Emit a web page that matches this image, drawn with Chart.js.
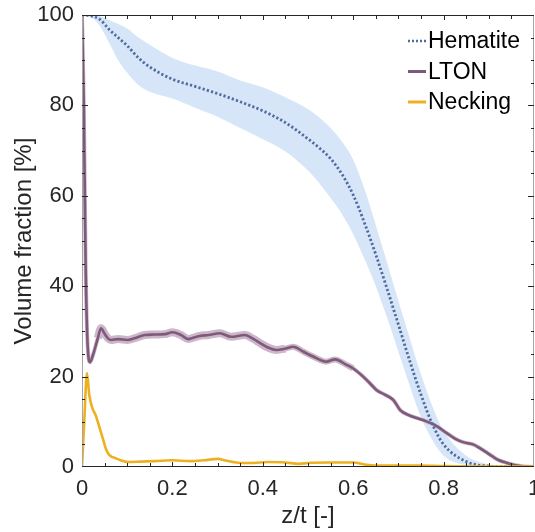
<!DOCTYPE html>
<html>
<head>
<meta charset="utf-8">
<script src="https://cdn.jsdelivr.net/npm/chart.js@4.4.1/dist/chart.umd.min.js"></script>
<style>
  html, body { margin:0; padding:0; background:#fff; }
  #wrap { width:535px; height:532px; }
</style>
</head>
<body>
<div id="wrap"><canvas id="c" width="535" height="532"></canvas></div>
<script>
// ─── Data ────────────────────────────────────────────────────────────────────
const seriesNames = ['Hematite', 'LTON', 'Necking'];

const hemX    = [0, 0.02, 0.04, 0.06, 0.08, 0.1, 0.125, 0.15, 0.2, 0.25, 0.3, 0.35, 0.4, 0.45, 0.5, 0.525, 0.55, 0.575, 0.6, 0.625, 0.65, 0.675, 0.7, 0.725, 0.75, 0.775, 0.8, 0.85, 0.9, 0.95, 1];
const hemMean = [100, 99.8, 99, 96.8, 95, 93.2, 90.5, 88.5, 85.8, 84.2, 82.6, 80.8, 78.8, 76.2, 72.6, 70.6, 68.2, 64.8, 60.2, 54, 47, 39.4, 31.5, 23.5, 16, 9.5, 5, 1.2, 0.2, 0.05, 0];
const hemHi   = [100, 100, 99.7, 98.9, 98, 97, 95, 93.4, 90.5, 88.8, 87.5, 85.5, 84, 81.8, 79.2, 77.3, 75, 72, 68, 61.5, 53.5, 45.2, 36.8, 28.5, 20.5, 13.5, 8, 2.5, 0.6, 0.1, 0];
const hemLo   = [100, 99.5, 97.5, 93.8, 90, 87.2, 84.5, 83, 81.5, 79.5, 77.5, 75, 72.5, 69.8, 65.6, 62.8, 59.5, 56, 51.5, 46, 40, 33, 25.5, 18, 11, 6, 2.5, 0.4, 0.05, 0, 0];

const ltonX = [0, 0.004, 0.008, 0.012, 0.018, 0.025, 0.035, 0.042, 0.05, 0.058, 0.064, 0.08, 0.1, 0.12, 0.139, 0.16, 0.184, 0.2, 0.219, 0.235, 0.243, 0.26, 0.28, 0.305, 0.33, 0.36, 0.38, 0.394, 0.41, 0.43, 0.45, 0.467, 0.49, 0.51, 0.54, 0.56, 0.585, 0.6, 0.622, 0.64, 0.652, 0.67, 0.689, 0.704, 0.72, 0.754, 0.78, 0.807, 0.825, 0.843, 0.865, 0.88, 0.903, 0.92, 0.94, 0.97, 1];
const ltonY = [100, 80, 45, 28, 23.2, 25, 28.5, 30.7, 29.5, 28.4, 28.1, 28.3, 28.1, 28.6, 29.2, 29.3, 29.4, 29.8, 29.2, 28.3, 28.5, 29, 29.2, 29.6, 28.8, 29.2, 28.3, 27.4, 26.5, 25.9, 26.2, 26.6, 25.5, 24.5, 23.3, 23.8, 22.6, 21.8, 20, 18.2, 17, 16, 14.8, 12.6, 11.6, 10.4, 9.3, 7.5, 6.3, 5.5, 5, 4.2, 2.7, 1.6, 0.9, 0.2, 0];

const neckX = [0, 0.005, 0.011, 0.016, 0.022, 0.03, 0.035, 0.041, 0.047, 0.053, 0.058, 0.065, 0.073, 0.085, 0.102, 0.13, 0.16, 0.2, 0.24, 0.27, 0.3, 0.32, 0.35, 0.38, 0.41, 0.45, 0.48, 0.5, 0.55, 0.6, 0.63, 0.66, 0.7, 0.75, 0.8, 0.9, 1];
const neckY = [0, 10, 20.8, 16, 13.3, 11.5, 10, 8, 6, 4, 3, 2.3, 2, 1.5, 1.1, 1.2, 1.3, 1.5, 1.3, 1.5, 1.8, 1.4, 0.9, 0.9, 1.1, 1, 0.7, 0.9, 1, 1, 0.5, 0.3, 0.3, 0.3, 0.2, 0.1, 0.1];

const xTicks = [0, 0.2, 0.4, 0.6, 0.8, 1];
const yTicks = [0, 20, 40, 60, 80, 100];

// ─── Style ───────────────────────────────────────────────────────────────────
const COL = {
  hem:    '#4f6b9f',
  hemBand:'#d6e6f8',
  lton:   '#7e5a7a',
  ltonBand:'#cdb6ca',
  neck:   '#edb120',
  ink:    '#262626',
  side:   '#a6a6a6',
};

Chart.defaults.font.family = "'Liberation Sans', Arial, sans-serif";
Chart.defaults.color = COL.ink;

const pts = (xs, ys) => xs.map((x, i) => ({ x, y: ys[i] }));

// ─── Plugins: box with inward ticks, legend inside the plot ─────────────────
const boxTicks = {
  id: 'boxTicks',
  afterDatasetsDraw(chart) {
    const { ctx, chartArea: a, scales: { x, y } } = chart;
    ctx.save();
    ctx.lineWidth = 1;
    ctx.strokeStyle = COL.side;
    ctx.beginPath();
    ctx.moveTo(a.left + 0.5, a.top); ctx.lineTo(a.left + 0.5, a.bottom);
    ctx.moveTo(a.right - 0.5, a.top); ctx.lineTo(a.right - 0.5, a.bottom);
    ctx.stroke();
    ctx.strokeStyle = COL.ink;
    ctx.beginPath();
    ctx.moveTo(a.left, a.top + 0.5); ctx.lineTo(a.right, a.top + 0.5);
    ctx.moveTo(a.left, a.bottom - 0.5); ctx.lineTo(a.right, a.bottom - 0.5);
    for (let i = 1; i < 20; i++) {
      const px = Math.round(x.getPixelForValue(i * 0.05)) + 0.5;
      const len = i % 4 === 0 ? 5 : 4;
      ctx.moveTo(px, a.bottom); ctx.lineTo(px, a.bottom - len);
      ctx.moveTo(px, a.top); ctx.lineTo(px, a.top + len);
    }
    for (let i = 1; i < 20; i++) {
      const py = Math.round(y.getPixelForValue(i * 5)) + 0.5;
      const len = i % 4 === 0 ? 6 : 3;
      ctx.moveTo(a.left, py); ctx.lineTo(a.left + len, py);
      ctx.moveTo(a.right, py); ctx.lineTo(a.right - len, py);
    }
    ctx.stroke();
    ctx.restore();
  }
};

const insideLegend = {
  id: 'insideLegend',
  afterDraw(chart) {
    const { ctx, chartArea: a } = chart;
    const styles = [
      { color: COL.hem,  dash: [2, 2], width: 2.5 },
      { color: COL.lton, dash: [],     width: 3 },
      { color: COL.neck, dash: [],     width: 3 },
    ];
    ctx.save();
    ctx.font = "23px 'Liberation Sans', Arial, sans-serif";
    ctx.textBaseline = 'middle';
    ctx.fillStyle = '#000';
    seriesNames.forEach((name, i) => {
      const yy = a.top + 26 + i * 30.5;
      const s = styles[i];
      ctx.strokeStyle = s.color;
      ctx.lineWidth = s.width;
      ctx.setLineDash(s.dash);
      ctx.beginPath();
      ctx.moveTo(a.right - 126, yy); ctx.lineTo(a.right - 108, yy);
      ctx.stroke();
      ctx.setLineDash([]);
      ctx.fillText(name, a.right - 106, yy + 1);
    });
    ctx.restore();
  }
};

// ─── Chart ───────────────────────────────────────────────────────────────────
new Chart(document.getElementById('c'), {
  type: 'line',
  data: {
    datasets: [
      { label: seriesNames[2], data: pts(neckX, neckY), borderColor: COL.neck, borderWidth: 2.6,
        fill: false, order: 0, cubicInterpolationMode: 'monotone' },
      { label: seriesNames[0], data: pts(hemX, hemMean), borderColor: COL.hem, borderWidth: 2.8,
        borderDash: [2.2, 2.2], borderCapStyle: 'butt', fill: false, order: 1, cubicInterpolationMode: 'monotone' },
      { label: seriesNames[1], data: pts(ltonX, ltonY), borderColor: COL.lton, borderWidth: 2.6,
        fill: false, order: 2, cubicInterpolationMode: 'monotone' },
      { label: 'LTON band', data: pts(ltonX, ltonY), borderColor: COL.ltonBand, borderWidth: 8,
        fill: false, order: 3, cubicInterpolationMode: 'monotone',
        segment: { borderWidth: c => c.p0.parsed.x < 0.03 ? 4 : c.p0.parsed.x < 0.45 ? 8 : c.p0.parsed.x < 0.6 ? 6 : 4 } },
      { label: 'Hematite upper', data: pts(hemX, hemHi), borderWidth: 0, borderColor: 'transparent',
        backgroundColor: COL.hemBand, fill: '+1', order: 4, cubicInterpolationMode: 'monotone' },
      { label: 'Hematite lower', data: pts(hemX, hemLo), borderWidth: 0, borderColor: 'transparent',
        fill: false, order: 5, cubicInterpolationMode: 'monotone' },
    ]
  },
  options: {
    responsive: false, animation: false,
    layout: { padding: { top: 15, right: 1, left: 0, bottom: 0 } },
    elements: { point: { radius: 0 } },
    plugins: { legend: { display: false }, tooltip: { enabled: false } },
    scales: {
      x: {
        type: 'linear', min: 0, max: 1,
        grid: { display: false, drawTicks: false }, border: { display: false },
        afterBuildTicks: s => { s.ticks = xTicks.map(v => ({ value: v })); },
        ticks: { padding: 9, font: { size: 22 }, maxRotation: 0, autoSkip: false, callback: v => String(+v.toFixed(1)) },
        title: { display: true, text: 'z/t [-]', font: { size: 24 }, padding: { top: 0, bottom: 1 } },
        afterFit: s => { s.height = 65; s.paddingLeft = 0; s.paddingRight = 0; }
      },
      y: {
        min: 0, max: 100,
        grid: { display: false, drawTicks: false }, border: { display: false },
        afterBuildTicks: s => { s.ticks = yTicks.map(v => ({ value: v })); },
        ticks: { padding: 8, font: { size: 22 }, autoSkip: false },
        title: { display: true, text: 'Volume fraction [%]', font: { size: 24 }, padding: { top: 10, bottom: 0 } },
        afterFit: s => { s.width = 82; s.paddingTop = 0; s.paddingBottom = 0; }
      }
    }
  },
  plugins: [boxTicks, insideLegend]
});
</script>
</body>
</html>
